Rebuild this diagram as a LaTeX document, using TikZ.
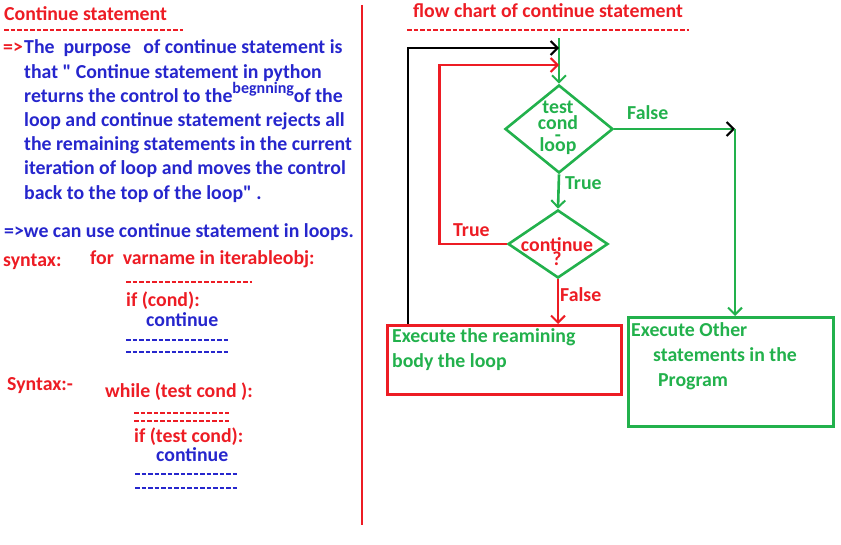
\documentclass[tikz,border=0pt]{standalone}
\usepackage{fontspec}
\setmainfont{Carlito}[Ligatures=TeXOff]
\usetikzlibrary{arrows.meta,shapes.geometric,positioning}
\definecolor{cred}{RGB}{237,28,36}
\definecolor{cblue}{RGB}{38,38,205}
\definecolor{cgreen}{RGB}{34,177,76}

\begin{document}
\begin{tikzpicture}[
  x=1pt,y=-1pt,
  txt/.style={anchor=base west,inner sep=0pt,font=\fontsize{19.8}{24}\selectfont\bfseries},
  rtxt/.style={txt,text=cred},
  btxt/.style={txt,text=cblue},
  gtxt/.style={txt,text=cgreen},
  rule/.style={line width=1.8pt,dash pattern=on 4.5pt off 2pt},
  flow/.style={line width=2.6pt},
  tip/.style={-{Straight Barb[length=7pt,width=14pt,line width=2pt]}},
  decision/.style={diamond,draw=cgreen,line width=2.6pt,inner sep=0pt},
  box/.style={rectangle,line width=2.6pt,anchor=north west,inner sep=0pt}
]
  \useasboundingbox (0,0) rectangle (841,545);

  % left column: text
  \node[rtxt] (title) at (4,21) {Continue statement};
  \draw[rule,cred] (4,30) -- (183,30);
  \node[rtxt] (arrow1) at (3,54) {=>};
  \foreach \ln [count=\i from 0] in {
      {The\ \ purpose\hspace{8pt} of continue statement is},
      {that " Continue statement in python},
      {returns the control to the\raisebox{9pt}{\fontsize{16}{16}\selectfont begnning}of the},
      {loop and continue statement rejects all},
      {the remaining statements in the current},
      {iteration of loop and moves the control},
      {back to the top of the loop" .}}
    \node[btxt] (para\i) at (24,54+24.2*\i) {\ln};
  \node[btxt] (use) at (4,238) {=>we can use continue statement in loops.};

  \node[rtxt] (syn1) at (3,267) {syntax:};
  \node[rtxt] (forhead) at (90,265) {for\ \ varname in iterableobj:};
  \draw[rule,cred] (126,282) -- (252,282);
  \node[rtxt] (forif) at (126,307) {if (cond):};
  \node[btxt] (forcont) at (146,327) {continue};
  \draw[rule,cblue] (126,340) -- (228,340);
  \draw[rule,cblue] (126,352) -- (228,352);

  \node[rtxt] (syn2) at (7,391) {Syntax:-};
  \node[rtxt] (whilehead) at (105,398) {while (test cond ):};
  \draw[rule,cred] (134,413) -- (229,413);
  \draw[rule,cred] (134,421) -- (229,421);
  \node[rtxt] (whileif) at (134,442) {if (test cond):};
  \node[btxt] (whilecont) at (156,461) {continue};
  \draw[rule,cblue] (135,474) -- (237,474);
  \draw[rule,cblue] (135,488) -- (237,488);

  \draw[cred,line width=2pt] (362,5) -- (362,525);

  % right column: flow chart
  \node[rtxt] (fctitle) at (413,18) {flow chart of continue statement};
  \draw[rule,cred] (407,30) -- (689,30);

  \node[decision,minimum width=108pt,minimum height=88pt] (test) at (559,129) {};
  \node[gtxt,anchor=base,font=\fontsize{19.8}{16}\selectfont\bfseries,align=center]
    (testtxt) at (558,152) {test\\cond\\[-4pt]-\\[-6pt]loop};
  \node[decision,minimum width=100pt,minimum height=68pt] (cont) at (558,244) {};
  \node[rtxt,anchor=base,font=\fontsize{19.8}{14}\selectfont\bfseries,align=center]
    (conttxt) at (557,266) {continue\\?};

  \node[box,draw=cred,minimum width=234pt,minimum height=69pt] (rembody) at (386,324) {};
  \node[gtxt] (remtxt1) at (392,343) {Execute the reamining};
  \node[gtxt] (remtxt2) at (392,367) {body the loop};
  \node[box,draw=cgreen,minimum width=205pt,minimum height=109pt] (other) at (627,316) {};
  \node[gtxt] (othtxt1) at (631,337) {Execute Other};
  \node[gtxt] (othtxt2) at (653,362) {statements in the};
  \node[gtxt] (othtxt3) at (658,386) {Program};

  \coordinate (entry) at (559,38);
  \coordinate (back1) at (559,48);
  \coordinate (back2) at (559,65);
  \coordinate (turn) at (735,129);

  \draw[flow,cgreen,tip] (entry) -- (test.north);
  \draw[flow,black,tip] ([xshift=22pt]rembody.north west) |- (back1);
  \draw[flow,cred,tip] (cont.west) -- ++(-67,0) |- (back2);
  \draw[flow,cgreen,-{Straight Barb[length=7pt,width=14pt,line width=2pt,color=black]}]
    (test.east) -- (turn);
  \draw[flow,cgreen,tip] (turn) -- (turn |- other.north);
  \draw[flow,cgreen,tip] (test.south) -- (cont.north);
  \draw[flow,cred,tip] (cont.south) -- (cont.south |- rembody.north);

  \node[gtxt] (lfalse1) at (627,120) {False};
  \node[gtxt] (ltrue1) at (565,190) {True};
  \node[rtxt] (ltrue2) at (453,237) {True};
  \node[rtxt] (lfalse2) at (560,302) {False};
\end{tikzpicture}
\end{document}
